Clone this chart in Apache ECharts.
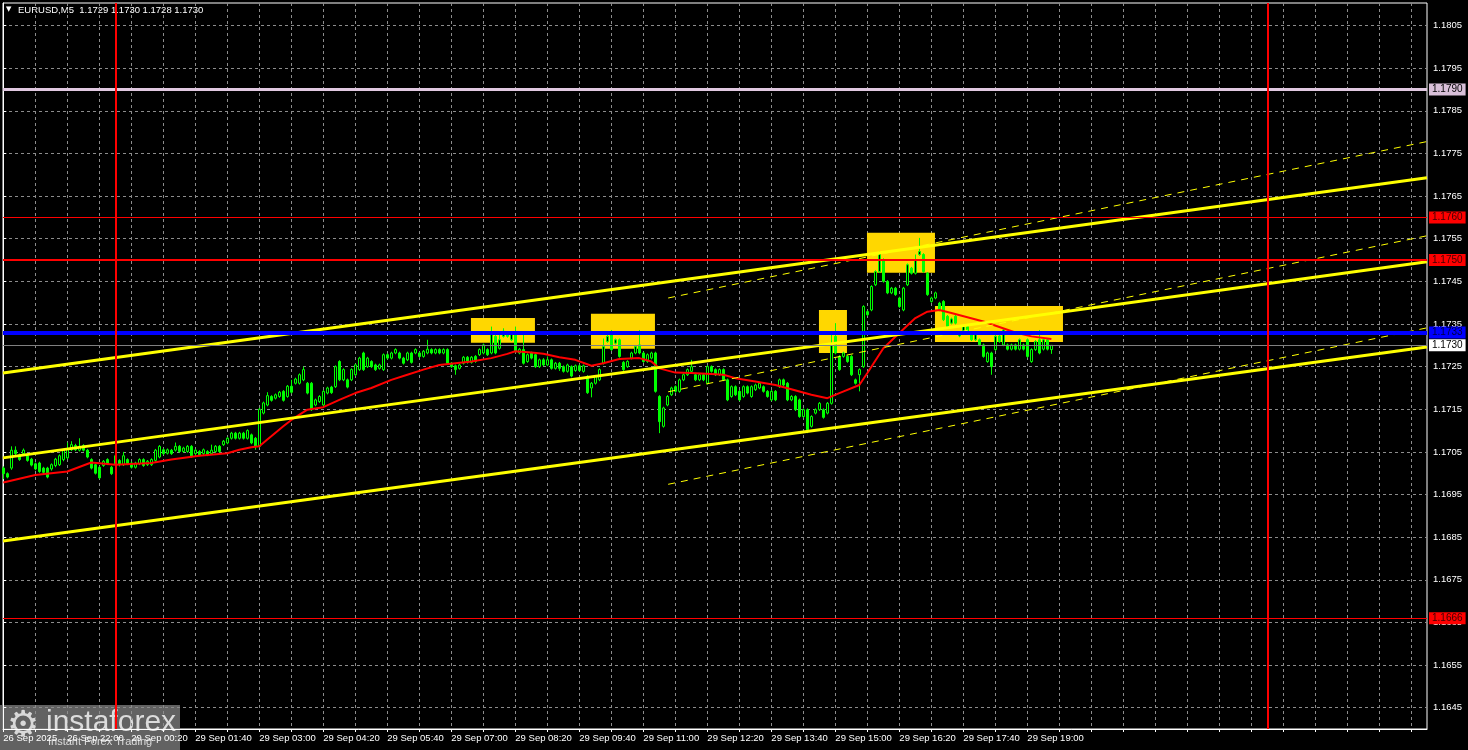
<!DOCTYPE html>
<html><head><meta charset="utf-8">
<script src="https://cdn.jsdelivr.net/npm/echarts@6/dist/echarts.min.js"></script>
<style>html,body{margin:0;padding:0;background:#000;overflow:hidden}#c{width:1468px;height:750px}</style>
</head><body><div id="c"></div>
<script>
// ---- candle data (M5 bars, index 0 = 26 Sep 20:40) ----
const open=[1.17012,1.16999,1.17012,1.17054,1.17043,1.17046,1.17041,1.17033,1.17022,1.17024,
1.17012,1.17012,1.17010,1.17018,1.17020,1.17032,1.17036,1.17055,1.17065,1.17054,
1.17065,1.17054,1.17032,1.17020,1.17014,1.17018,1.17032,1.17014,1.17022,1.17030,
1.17020,1.17032,1.17024,1.17014,1.17022,1.17032,1.17020,1.17020,1.17030,1.17038,
1.17055,1.17047,1.17054,1.17054,1.17063,1.17051,1.17051,1.17063,1.17046,1.17051,
1.17046,1.17051,1.17046,1.17051,1.17063,1.17067,1.17071,1.17082,1.17094,1.17082,
1.17094,1.17082,1.17090,1.17082,1.17063,1.17141,1.17160,1.17180,1.17176,1.17180,
1.17192,1.17180,1.17204,1.17211,1.17211,1.17219,1.17211,1.17211,1.17160,1.17168,
1.17160,1.17188,1.17202,1.17203,1.17262,1.17219,1.17219,1.17219,1.17231,1.17243,
1.17282,1.17250,1.17262,1.17254,1.17246,1.17243,1.17278,1.17270,1.17282,1.17282,
1.17270,1.17266,1.17282,1.17282,1.17282,1.17274,1.17282,1.17290,1.17282,1.17290,
1.17282,1.17290,1.17258,1.17252,1.17246,1.17258,1.17272,1.17260,1.17274,1.17278,
1.17282,1.17290,1.17282,1.17321,1.17293,1.17321,1.17329,1.17313,1.17329,1.17282,
1.17290,1.17262,1.17282,1.17278,1.17250,1.17266,1.17254,1.17266,1.17246,1.17258,
1.17250,1.17239,1.17250,1.17241,1.17252,1.17239,1.17227,1.17200,1.17211,1.17219,
1.17258,1.17309,1.17329,1.17305,1.17313,1.17260,1.17250,1.17270,1.17282,1.17301,
1.17282,1.17262,1.17270,1.17282,1.17180,1.17110,1.17160,1.17184,1.17203,1.17192,
1.17219,1.17231,1.17239,1.17231,1.17219,1.17231,1.17211,1.17250,1.17243,1.17231,
1.17243,1.17219,1.17180,1.17203,1.17192,1.17180,1.17203,1.17180,1.17196,1.17200,
1.17203,1.17192,1.17172,1.17192,1.17203,1.17219,1.17211,1.17172,1.17180,1.17172,
1.17133,1.17149,1.17110,1.17141,1.17149,1.17149,1.17141,1.17164,1.17321,1.17274,
1.17274,1.17274,1.17274,1.17219,1.17231,1.17250,1.17379,1.17383,1.17442,1.17473,
1.17501,1.17450,1.17423,1.17434,1.17411,1.17383,1.17442,1.17481,1.17469,1.17513,
1.17513,1.17469,1.17403,1.17411,1.17399,1.17403,1.17368,1.17352,1.17368,1.17322,
1.17333,1.17344,1.17329,1.17313,1.17313,1.17301,1.17262,1.17282,1.17290,1.17322,
1.17301,1.17301,1.17291,1.17301,1.17291,1.17301,1.17313,1.17262,1.17290,1.17313,
1.17291,1.17313,1.17290];
const high=[1.17016,1.17002,1.17063,1.17063,1.17046,1.17058,1.17044,1.17036,1.17025,1.17027,
1.17015,1.17015,1.17023,1.17036,1.17044,1.17057,1.17072,1.17075,1.17069,1.17082,
1.17068,1.17057,1.17035,1.17023,1.17017,1.17031,1.17035,1.17017,1.17050,1.17033,
1.17050,1.17035,1.17027,1.17027,1.17035,1.17035,1.17031,1.17035,1.17057,1.17066,
1.17058,1.17058,1.17057,1.17072,1.17066,1.17062,1.17066,1.17066,1.17057,1.17054,
1.17058,1.17054,1.17067,1.17066,1.17066,1.17078,1.17085,1.17097,1.17097,1.17097,
1.17097,1.17103,1.17093,1.17085,1.17153,1.17168,1.17190,1.17183,1.17187,1.17193,
1.17195,1.17207,1.17219,1.17224,1.17234,1.17250,1.17214,1.17214,1.17175,1.17183,
1.17195,1.17203,1.17205,1.17253,1.17265,1.17246,1.17222,1.17246,1.17257,1.17273,
1.17285,1.17273,1.17265,1.17257,1.17257,1.17281,1.17281,1.17285,1.17293,1.17285,
1.17273,1.17285,1.17285,1.17293,1.17285,1.17289,1.17313,1.17293,1.17293,1.17293,
1.17293,1.17293,1.17261,1.17255,1.17257,1.17275,1.17275,1.17275,1.17277,1.17293,
1.17304,1.17293,1.17344,1.17324,1.17333,1.17340,1.17332,1.17333,1.17344,1.17294,
1.17333,1.17281,1.17285,1.17281,1.17269,1.17270,1.17274,1.17269,1.17261,1.17261,
1.17253,1.17257,1.17253,1.17255,1.17255,1.17255,1.17230,1.17214,1.17230,1.17246,
1.17316,1.17324,1.17336,1.17316,1.17316,1.17263,1.17265,1.17285,1.17300,1.17336,
1.17285,1.17281,1.17285,1.17285,1.17183,1.17156,1.17183,1.17203,1.17206,1.17222,
1.17234,1.17246,1.17266,1.17234,1.17234,1.17234,1.17253,1.17253,1.17246,1.17246,
1.17246,1.17222,1.17206,1.17206,1.17195,1.17206,1.17206,1.17206,1.17210,1.17214,
1.17206,1.17195,1.17195,1.17195,1.17222,1.17222,1.17214,1.17183,1.17183,1.17175,
1.17152,1.17152,1.17136,1.17152,1.17167,1.17152,1.17167,1.17329,1.17352,1.17277,
1.17285,1.17277,1.17277,1.17222,1.17246,1.17394,1.17382,1.17441,1.17476,1.17520,
1.17504,1.17453,1.17437,1.17437,1.17414,1.17437,1.17492,1.17484,1.17513,1.17552,
1.17516,1.17472,1.17414,1.17426,1.17402,1.17406,1.17371,1.17365,1.17371,1.17332,
1.17347,1.17347,1.17332,1.17332,1.17316,1.17304,1.17285,1.17285,1.17324,1.17325,
1.17339,1.17304,1.17304,1.17304,1.17316,1.17304,1.17316,1.17293,1.17312,1.17336,
1.17316,1.17316,1.17300];
const low=[1.16986,1.16988,1.17008,1.17043,1.17029,1.17043,1.17027,1.17016,1.17007,1.17001,
1.16997,1.16988,1.17006,1.17014,1.17017,1.17028,1.17033,1.17052,1.17052,1.17051,
1.17051,1.17035,1.17009,1.16997,1.16986,1.17015,1.17019,1.16996,1.17019,1.17016,
1.17017,1.17019,1.17011,1.17011,1.17019,1.17015,1.17017,1.17017,1.17027,1.17035,
1.17043,1.17044,1.17043,1.17051,1.17048,1.17048,1.17048,1.17036,1.17043,1.17040,
1.17043,1.17040,1.17043,1.17048,1.17048,1.17064,1.17068,1.17079,1.17079,1.17079,
1.17079,1.17079,1.17068,1.17055,1.17060,1.17138,1.17157,1.17168,1.17173,1.17177,
1.17168,1.17177,1.17187,1.17208,1.17208,1.17216,1.17185,1.17146,1.17157,1.17165,
1.17157,1.17185,1.17186,1.17200,1.17216,1.17216,1.17199,1.17216,1.17228,1.17240,
1.17240,1.17247,1.17247,1.17240,1.17243,1.17240,1.17267,1.17267,1.17279,1.17267,
1.17255,1.17263,1.17257,1.17279,1.17271,1.17271,1.17279,1.17279,1.17279,1.17279,
1.17279,1.17255,1.17247,1.17231,1.17243,1.17255,1.17257,1.17257,1.17259,1.17275,
1.17279,1.17275,1.17279,1.17279,1.17290,1.17318,1.17318,1.17310,1.17283,1.17279,
1.17255,1.17259,1.17267,1.17247,1.17247,1.17251,1.17251,1.17243,1.17243,1.17240,
1.17236,1.17236,1.17225,1.17238,1.17238,1.17236,1.17186,1.17178,1.17208,1.17216,
1.17255,1.17306,1.17287,1.17302,1.17271,1.17240,1.17247,1.17267,1.17279,1.17279,
1.17259,1.17259,1.17267,1.17189,1.17094,1.17107,1.17157,1.17181,1.17189,1.17189,
1.17216,1.17228,1.17236,1.17216,1.17216,1.17216,1.17208,1.17236,1.17228,1.17228,
1.17216,1.17169,1.17177,1.17181,1.17169,1.17177,1.17185,1.17177,1.17193,1.17197,
1.17189,1.17177,1.17169,1.17169,1.17200,1.17204,1.17169,1.17169,1.17146,1.17130,
1.17130,1.17094,1.17107,1.17138,1.17146,1.17128,1.17138,1.17161,1.17279,1.17240,
1.17271,1.17259,1.17228,1.17208,1.17192,1.17247,1.17369,1.17380,1.17439,1.17470,
1.17447,1.17420,1.17420,1.17416,1.17388,1.17380,1.17439,1.17466,1.17466,1.17510,
1.17470,1.17416,1.17400,1.17408,1.17380,1.17357,1.17341,1.17349,1.17349,1.17319,
1.17330,1.17326,1.17310,1.17310,1.17298,1.17271,1.17259,1.17231,1.17287,1.17306,
1.17298,1.17288,1.17288,1.17288,1.17288,1.17288,1.17271,1.17259,1.17287,1.17279,
1.17288,1.17288,1.17280];
const close=[1.16999,1.16991,1.17054,1.17046,1.17032,1.17054,1.17030,1.17019,1.17010,1.17004,
1.17002,1.16991,1.17020,1.17033,1.17041,1.17054,1.17057,1.17067,1.17055,1.17063,
1.17054,1.17038,1.17012,1.17000,1.16989,1.17028,1.17022,1.16999,1.17041,1.17020,
1.17041,1.17022,1.17014,1.17024,1.17032,1.17018,1.17028,1.17032,1.17054,1.17063,
1.17046,1.17055,1.17046,1.17063,1.17051,1.17059,1.17063,1.17039,1.17054,1.17043,
1.17055,1.17043,1.17054,1.17063,1.17051,1.17075,1.17082,1.17094,1.17082,1.17094,
1.17082,1.17100,1.17071,1.17063,1.17150,1.17165,1.17182,1.17171,1.17184,1.17190,
1.17171,1.17204,1.17190,1.17221,1.17231,1.17243,1.17188,1.17149,1.17172,1.17180,
1.17192,1.17200,1.17189,1.17250,1.17219,1.17243,1.17202,1.17243,1.17254,1.17270,
1.17243,1.17270,1.17250,1.17243,1.17254,1.17278,1.17270,1.17282,1.17290,1.17270,
1.17258,1.17282,1.17260,1.17290,1.17274,1.17286,1.17291,1.17282,1.17290,1.17282,
1.17290,1.17258,1.17250,1.17243,1.17254,1.17272,1.17260,1.17272,1.17262,1.17290,
1.17301,1.17278,1.17329,1.17282,1.17313,1.17333,1.17321,1.17330,1.17286,1.17291,
1.17258,1.17278,1.17270,1.17250,1.17266,1.17254,1.17266,1.17246,1.17258,1.17246,
1.17239,1.17254,1.17228,1.17252,1.17241,1.17252,1.17189,1.17211,1.17227,1.17243,
1.17297,1.17321,1.17290,1.17313,1.17274,1.17243,1.17262,1.17282,1.17297,1.17282,
1.17262,1.17278,1.17282,1.17192,1.17121,1.17153,1.17180,1.17200,1.17192,1.17219,
1.17231,1.17243,1.17250,1.17219,1.17231,1.17219,1.17250,1.17239,1.17231,1.17243,
1.17219,1.17172,1.17203,1.17184,1.17172,1.17203,1.17188,1.17203,1.17207,1.17211,
1.17192,1.17180,1.17192,1.17172,1.17219,1.17207,1.17172,1.17180,1.17149,1.17133,
1.17149,1.17102,1.17133,1.17149,1.17164,1.17131,1.17164,1.17301,1.17282,1.17243,
1.17282,1.17262,1.17231,1.17211,1.17243,1.17391,1.17372,1.17438,1.17473,1.17513,
1.17450,1.17423,1.17434,1.17419,1.17391,1.17434,1.17489,1.17469,1.17501,1.17520,
1.17473,1.17419,1.17411,1.17423,1.17383,1.17360,1.17344,1.17362,1.17352,1.17329,
1.17344,1.17329,1.17313,1.17325,1.17301,1.17274,1.17282,1.17250,1.17321,1.17309,
1.17336,1.17291,1.17301,1.17291,1.17313,1.17291,1.17274,1.17290,1.17309,1.17282,
1.17313,1.17291,1.17300];

// moving average as [barIndex, price]
const maPts=[[0,1.16978],[8,1.16996],[16,1.17004],[22,1.17025],[28,1.17020],[37,1.17024],[42,1.17032],[49,1.17041],
[56,1.17047],[59,1.17055],[62,1.17061],[64,1.17063],[66,1.17079],[70,1.17110],[72,1.17125],[76,1.17149],[80,1.17155],
[84,1.17172],[88,1.17188],[92,1.17200],[97,1.17219],[101,1.17231],[105,1.17243],[109,1.17254],[113,1.17258],[117,1.17262],
[122,1.17270],[126,1.17280],[128,1.17286],[132,1.17283],[135,1.17280],[139,1.17272],[143,1.17266],[147,1.17252],[150,1.17258],
[154,1.17268],[159,1.17270],[162,1.17262],[164,1.17246],[168,1.17236],[172,1.17235],[177,1.17233],[180,1.17231],[183,1.17223],
[188,1.17215],[193,1.17207],[197,1.17197],[202,1.17184],[206,1.17176],[209,1.17188],[214,1.17207],[216,1.17235],[220,1.17293],
[224,1.17329],[228,1.17364],[231,1.17379],[234,1.17383],[237,1.17376],[241,1.17366],[245,1.17356],[249,1.17343],[253,1.17330],
[257,1.17321],[262,1.17315]];

// trend channel lines [barIndex, price]
const chanTop=[[-0.075,1.17235],[355.9,1.17693]];
const chanMid=[[-0.075,1.17036],[355.9,1.17496]];
const chanBot=[[-0.075,1.16841],[355.9,1.17296]];
const dashTop=[[166.2,1.17411],[355.9,1.17778]];
const dashMid=[[166.2,1.17191],[355.9,1.17557]];
const dashBot=[[166.2,1.16974],[355.9,1.17341]];

// yellow zones [fromIndex, toIndex, topPrice, bottomPrice]
const zones=[[116.9,132.9,1.17364,1.17306],[146.9,162.9,1.17374,1.17292],[203.9,210.9,1.17383,1.17282],
[215.9,232.9,1.17564,1.17470],[232.9,264.9,1.17392,1.17308]];

// horizontal levels
const levels=[
 {v:1.1790,line:'#E0C8E0',w:3,bg:'#D8BFD8',fg:'#000'},
 {v:1.1760,line:'#FF0000',w:1,bg:'#FF0000',fg:'#400000'},
 {v:1.1750,line:'#FF0000',w:2,bg:'#FF0000',fg:'#400000'},
 {v:1.1733,line:'#0000FF',w:4,bg:'#0000FF',fg:'#000040'},
 {v:1.1730,line:'#808080',w:1,bg:'#FFFFFF',fg:'#000'},
 {v:1.1666,line:'#FF0000',w:1,bg:'#FF0000',fg:'#400000'}];
const dayLines=[28,316];

// axis ticks / labels
const yTicks=[1.1645,1.1655,1.1665,1.1675,1.1685,1.1695,1.1705,1.1715,1.1725,1.1735,1.1745,1.1755,1.1765,1.1775,1.1785,1.1795,1.1805];
const xLabels=["26 Sep 2025","26 Sep 22:00","29 Sep 00:20","29 Sep 01:40","29 Sep 03:00","29 Sep 04:20","29 Sep 05:40",
"29 Sep 07:00","29 Sep 08:20","29 Sep 09:40","29 Sep 11:00","29 Sep 12:20","29 Sep 13:40","29 Sep 15:00","29 Sep 16:20",
"29 Sep 17:40","29 Sep 19:00"];
const xLabelStep=16, xGridStep=8;
const xLabelPos=xLabels.map((_,k)=>k*xLabelStep);
const xGridPos=[]; for(let v=0; v<=352; v+=xGridStep) xGridPos.push(v);

const candles=open.map((o,i)=>[i,o,close[i],low[i],high[i]]);
const last=candles.length-1;
const FONT='"Liberation Sans", Arial, sans-serif';

const chart=echarts.init(document.getElementById('c'),null,{renderer:'canvas',devicePixelRatio:1});
const lineS=(name,d,color,w,type,z)=>({name,type:'line',data:d,symbol:'none',silent:true,z:z||4,
  lineStyle:{color,width:w,type:type||'solid'},animation:false});
chart.setOption({
 backgroundColor:'#000',
 animation:false,
 grid:{left:3,right:41,top:3,bottom:21,show:true,borderColor:'#fff',borderWidth:1,outerBoundsMode:'none',containLabel:false},
 xAxis:{type:'value',min:-0.075,max:355.9,
   axisLine:{show:true,lineStyle:{color:'#fff'}},
   axisTick:{show:true,length:3,customValues:xGridPos,lineStyle:{color:'#fff'}},
   axisLabel:{customValues:xLabelPos,formatter:v=>xLabels[Math.round(v/xLabelStep)],color:'#fff',
     fontFamily:FONT,fontSize:9.5,align:'left',margin:4},
   splitLine:{show:true,lineStyle:{color:'#8c8c8c',width:1,type:[3,3]}}},
 yAxis:{type:'value',position:'right',min:1.16400,max:1.18103,scale:true,
   axisLine:{show:true,lineStyle:{color:'#fff'}},
   axisTick:{show:true,length:3,customValues:yTicks,lineStyle:{color:'#fff'}},
   axisLabel:{customValues:yTicks,formatter:v=>v.toFixed(4),color:'#fff',
     fontFamily:FONT,fontSize:9.5,margin:6},
   splitLine:{show:true,lineStyle:{color:'#8c8c8c',width:1,type:[3,3]}}},
 series:[
  {name:'zones',type:'line',data:[],z:1,silent:true,
   markArea:{silent:true,itemStyle:{color:'#FFD700',opacity:1},
     data:zones.map(z=>[{xAxis:z[0],yAxis:z[2]},{xAxis:z[1],yAxis:z[3]}])}},
  {name:'EURUSD',type:'candlestick',data:candles,encode:{x:0,y:[1,2,3,4]},z:2,barWidth:3,silent:true,
   itemStyle:{color:'#000000',color0:'#00FF00',borderColor:'#00FF00',borderColor0:'#00FF00',borderWidth:1}},
  lineS('MA',maPts,'#FF0000',2,'solid',3),
  lineS('chanTop',chanTop,'#FFFF00',3),
  lineS('chanMid',chanMid,'#FFFF00',3),
  lineS('chanBot',chanBot,'#FFFF00',3),
  lineS('dashTop',dashTop,'#FFFF00',1,[7,6]),
  lineS('dashMid',dashMid,'#FFFF00',1,[7,6]),
  lineS('dashBot',dashBot,'#FFFF00',1,[7,6]),
  {name:'levels',type:'line',data:[],z:5,silent:true,
   markLine:{silent:true,symbol:['none','none'],animation:false,precision:6,
     data:levels.map(l=>({yAxis:l.v,lineStyle:{color:l.line,width:l.w,type:'solid'},
       label:{show:true,position:'end',distance:2,formatter:l.v.toFixed(4),color:l.fg,backgroundColor:l.bg,
         padding:[1,3,1,3],fontFamily:FONT,fontSize:10,lineHeight:10}}))
     .concat(dayLines.map(d=>({xAxis:d,lineStyle:{color:'#FF0000',width:2,type:'solid'},label:{show:false}})))}}
 ],
 graphic:[
  {type:'text',left:6,top:6,style:{text:'▼',fill:'#fff',font:'7px "DejaVu Sans"'}},
  {type:'text',left:18,top:5,style:{text:'EURUSD,M5  '+[open[last],high[last],low[last],close[last]].map(v=>v.toFixed(4)).join(' '),
     fill:'#fff',font:'9.5px '+FONT}},
  {type:'group',left:0,top:705,children:[
    {type:'rect',shape:{x:0,y:0,width:180,height:45},style:{fill:'rgba(120,120,120,0.82)'}},
    {type:'text',x:7,y:4,style:{text:'⚙',fill:'#d8d8d8',font:'36px "DejaVu Sans"'}},
    {type:'text',x:46,y:3,style:{text:'instaforex',fill:'#dcdcdc',font:'30px '+FONT}},
    {type:'text',x:48,y:31,style:{text:'Instant Forex Trading',fill:'#dcdcdc',font:'11px '+FONT}}
  ]}
 ]
});
</script></body></html>
